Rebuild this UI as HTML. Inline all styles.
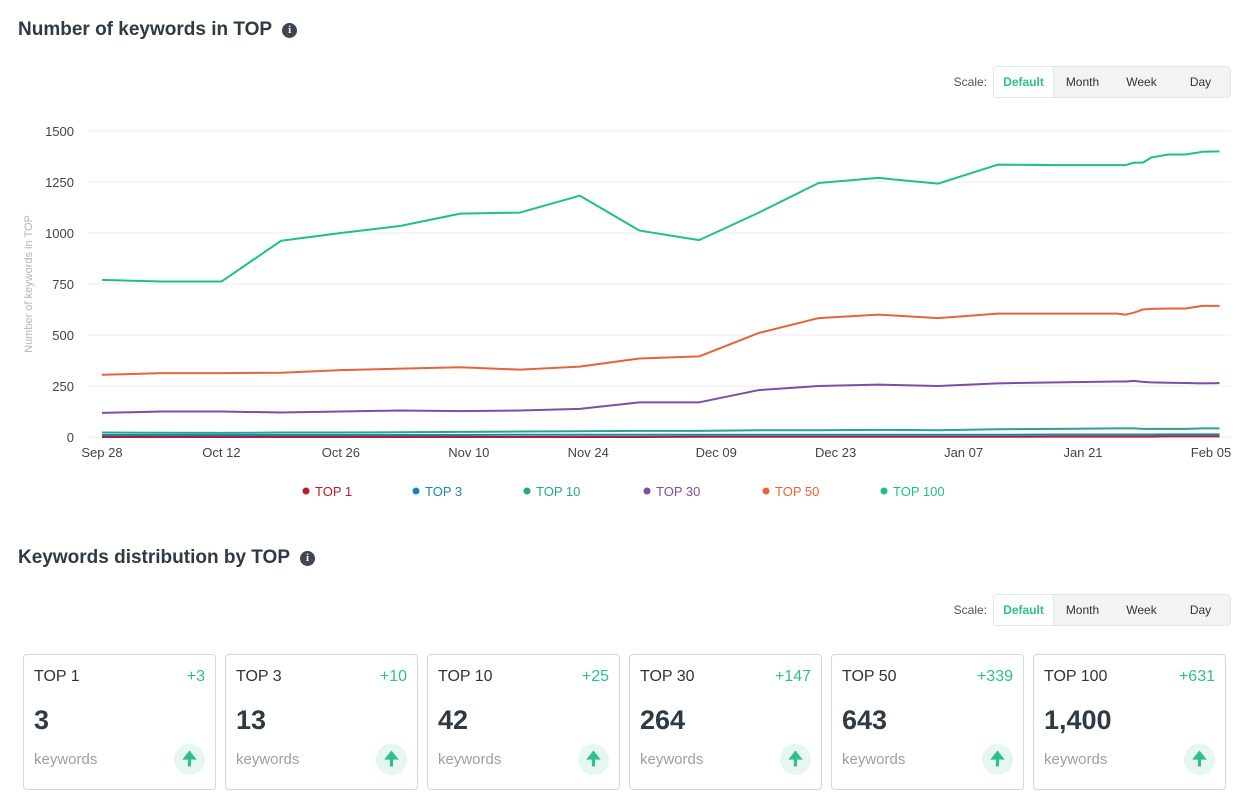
<!DOCTYPE html>
<html><head><meta charset="utf-8"><style>
body{margin:0;width:1239px;height:795px;background:#fff;font-family:"Liberation Sans",sans-serif;color:#333c44;position:relative;overflow:hidden}
.h{position:absolute;left:18px;font-size:19px;font-weight:bold;color:#2f3a44}
.info{display:inline-block;width:15px;height:15px;border-radius:50%;background:#3d4651;color:#fff;font-size:11px;text-align:center;line-height:15px;font-family:"Liberation Serif",serif;font-weight:bold;vertical-align:2px;margin-left:10px}
.scale{position:absolute;right:8px;height:30px;display:flex;align-items:center;font-size:12px}
.scale .lbl{color:#555;margin-right:6px}
.seg{display:flex;background:#f1f3f4;border:1px solid #e3e6e8;border-radius:4px;height:30px}
.seg div{width:59px;text-align:center;line-height:30px;color:#333}
.seg .on{background:#fff;color:#2fbf8f;font-weight:bold;border-radius:3px;border:1px solid #e3e6e8;margin:-1px}
.card{position:absolute;top:654px;width:191px;height:134px;border:1px solid #d3d7da;border-radius:4px}
.card .t{position:absolute;left:10px;top:13px;font-size:16px;color:#333}
.card .d{position:absolute;right:10px;top:13px;font-size:16px;color:#2fbf8f}
.card .v{position:absolute;left:10px;top:50px;font-size:27px;font-weight:bold;color:#2f3a44}
.card .k{position:absolute;left:10px;top:96px;font-size:15px;color:#9aa0a6}
.card .a{position:absolute;right:10px;top:89px;width:31px;height:31px;border-radius:50%;background:#e5f7f0;color:#2fbf8f;text-align:center;line-height:31px;font-size:18px;font-weight:bold}
</style></head><body>
<div class="h" style="top:19px">Number of keywords in TOP<span class="info">i</span></div>
<div class="scale" style="top:67px"><span class="lbl">Scale:</span><div class="seg"><div class="on">Default</div><div>Month</div><div>Week</div><div>Day</div></div></div>
<svg id="chart" width="1239" height="520" style="position:absolute;left:0;top:0"></svg>
<div class="h" style="top:547px">Keywords distribution by TOP<span class="info">i</span></div>
<div class="scale" style="top:595px"><span class="lbl">Scale:</span><div class="seg"><div class="on">Default</div><div>Month</div><div>Week</div><div>Day</div></div></div>
<div id="cards"></div>
<script>
const days=[0,7,14,21,28,35,42,49,56,63,70,77,84,91,98,105,112,119,120,121,122,123,125,127,129,131];
const top100=[770,762,762,962,1000,1035,1095,1100,1183,1012,965,1100,1245,1270,1242,1335,1333,1333,1333,1345,1345,1370,1385,1385,1398,1400];
const top50=[305,313,313,315,328,335,342,330,345,385,395,510,583,600,583,605,605,605,600,610,625,628,630,630,643,643];
const top30=[118,125,125,120,125,130,127,130,138,170,170,230,250,257,250,263,268,272,272,275,270,268,266,265,263,264];
const top10=[22,21,20,22,22,23,25,27,28,30,30,33,33,35,33,38,40,42,42,42,40,40,40,40,42,42];
const top3=[10,10,10,10,10,10,10,11,11,11,11,11,11,11,11,11,12,12,12,12,12,12,13,13,13,13];
const top1=[0,0,0,0,0,0,0,0,0,0,1,1,1,1,1,1,2,2,2,2,2,2,3,3,3,3];
const yTicks=[0,250,500,750,1000,1250,1500];
const xTickDays=[0,14,28,43,57,72,86,101,115,130];
const xTickLabels=["Sep 28","Oct 12","Oct 26","Nov 10","Nov 24","Dec 09","Dec 23","Jan 07","Jan 21","Feb 05"];
const seriesNames=["TOP 1","TOP 3","TOP 10","TOP 30","TOP 50","TOP 100"];
const seriesData=[top1,top3,top10,top30,top50,top100];
const colors=["#b3202a","#1a85b8","#26a68f","#7b4ea3","#e8633a","#1fbf8c"];
const NS="http://www.w3.org/2000/svg",svg=document.getElementById("chart");
const X=d=>102+d*(1211-102)/130, Y=v=>437-v*(437-131)/1500;
function mk(t,a,p){const e=document.createElementNS(NS,t);for(const k in a)e.setAttribute(k,a[k]);(p||svg).appendChild(e);return e;}
yTicks.forEach(v=>{const l=mk("line",{x1:88,x2:1231,y1:Y(v),y2:Y(v),stroke:"#eceef0"});


const t=mk("text",{x:74,y:Y(v)+5,"text-anchor":"end","font-size":13,fill:"#444"});t.textContent=v;

});
xTickDays.forEach((d,i)=>{const t=mk("text",{x:X(d),y:457,"text-anchor":"middle","font-size":13,fill:"#444"});t.textContent=xTickLabels[i];

});
const yt=mk("text",{transform:"translate(32,284) rotate(-90)","text-anchor":"middle","font-size":11,fill:"#b0b5ba"});yt.textContent="Number of keywords in TOP";


seriesData.forEach((s,i)=>{const p=mk("polyline",{points:s.map((v,j)=>X(days[j])+","+Y(v)).join(" "),fill:"none",stroke:colors[i],"stroke-width":2,"stroke-linejoin":"round"});

});
const lx=[306,416,527,647,766,884];
seriesNames.forEach((n,i)=>{const g=mk("g",{});


mk("circle",{cx:lx[i],cy:491,r:3.5,fill:colors[i]},g);const t=mk("text",{x:lx[i]+9,y:496,"font-size":13,fill:colors[i]},g);t.textContent=n;});
const cardDelta=["+3","+10","+25","+147","+339","+631"];
const cardVals=["3","13","42","264","643","1,400"];
const c=document.getElementById("cards");
seriesNames.forEach((n,i)=>{const d=document.createElement("div");d.className="card";d.style.left=(23+i*202)+"px";


d.innerHTML='<div class="t">'+n+'</div><div class="d">'+cardDelta[i]+'</div><div class="v">'+cardVals[i]+'</div><div class="k">keywords</div><div class="a">&#129033;</div>';
c.appendChild(d);});
</script>
</body></html>
